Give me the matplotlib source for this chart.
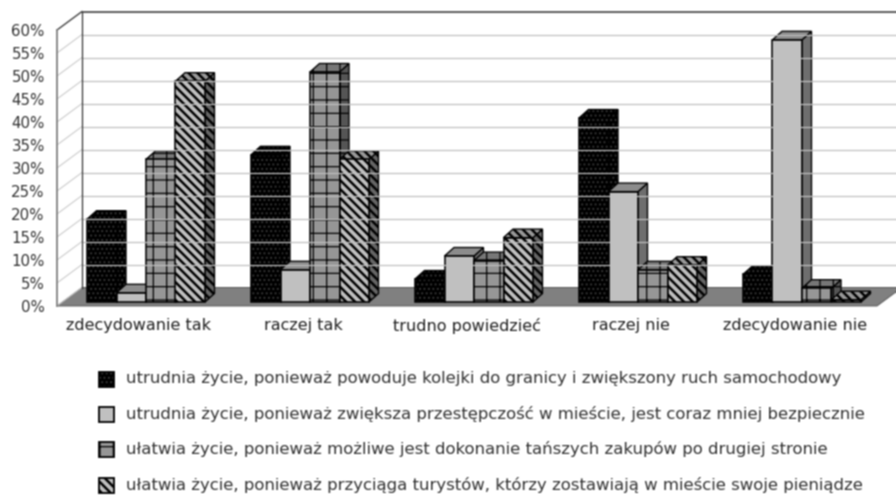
#!/usr/bin/env python

import matplotlib
matplotlib.use('Agg')
import matplotlib.pyplot as plt
import numpy as np
from matplotlib.patches import Polygon, Rectangle

plt.rcParams['font.family'] = ['DejaVu Sans']

categories = ['zdecydowanie tak', 'raczej tak', 'trudno powiedzieć', 'raczej nie', 'zdecydowanie nie']
yticks = [0, 5, 10, 15, 20, 25, 30, 35, 40, 45, 50, 55, 60]
ylabels = ['0%', '5%', '10%', '15%', '20%', '25%', '30%', '35%', '40%', '45%', '50%', '55%', '60%']

s1 = [18, 32, 5, 40, 6]
s2 = [2, 7, 10, 24, 57]
s3 = [31, 50, 9, 7, 3]
s4 = [48, 31, 14, 8, 0.5]
series = [s1, s2, s3, s4]

legend_texts = [
    'utrudnia życie, ponieważ powoduje kolejki do granicy i zwiększony ruch samochodowy',
    'utrudnia życie, ponieważ zwiększa przestępczość w mieście, jest coraz mniej bezpiecznie',
    'ułatwia życie, ponieważ możliwe jest dokonanie tańszych zakupów po drugiej stronie',
    'ułatwia życie, ponieważ przyciąga turystów, którzy zostawiają w mieście swoje pieniądze',
]

# face colour, dark side, top, hatch, hatch colour, hatch width
styles = [
    ('#000000', '#000000', '#000000', '...', '#3c3c3c', 1.0),
    ('#c0c0c0', '#6e6e6e', '#8c8c8c', '', '#000000', 1.0),
    ('#969696', '#555555', '#777777', '+', '#000000', 1.1),
    ('#c0c0c0', '#666666', '#999999', '\\\\\\', '#000000', 2.2),
]

W, H = 896, 496
px_x = 164.0       # pixels per category
px_y = 4.6         # pixels per percent
wall_dx = 25 / px_x
wall_dy = 18.5 / px_y
bar_dx = 9.5 / px_x
bar_dy = 8.5 / px_y
bar_w = 29.5 / px_x
bar_start = 30 / px_x
base = 4 / px_y


# the reference is a soft scan, so the whole figure gets a small blur
def soften(img, dpi):
    out = np.pad(img, ((1, 1), (1, 1), (0, 0)), mode='edge')
    out = (out[:-2] + 2 * out[1:-1] + out[2:]) / 4
    out = (out[:, :-2] + 2 * out[:, 1:-1] + out[:, 2:]) / 4
    return out, 0, 0


fig = plt.figure(figsize=(W / 80, H / 80), dpi=80)
fig.set_agg_filter(soften)
ax = fig.add_axes([57 / W, 1 - 306 / H, 820 / W, 276 / H])
ax.set_xlim(0, 5)
ax.set_ylim(0, 60)
for s in ['top', 'right', 'bottom']:
    ax.spines[s].set_visible(False)
ax.spines['left'].set_color('#808080')
ax.spines['left'].set_linewidth(1.6)
ax.set_xticks([i + 0.5 for i in range(5)])
ax.set_xticklabels(categories, fontsize=14.4, color='#222222')
ax.set_yticks(yticks)
ax.set_yticklabels(ylabels, fontsize=13.5, color='#333333')
ax.tick_params(length=0)
ax.tick_params(axis='x', pad=11)
ax.tick_params(axis='y', pad=11)

# walls and gridlines
for y in yticks:
    ax.plot([0, wall_dx], [y, y + wall_dy], color='#c8c8c8', lw=0.9, clip_on=False)
    if y > 0:
        ax.plot([wall_dx, 5 + wall_dx], [y + wall_dy, y + wall_dy], color='#c0c0c0', lw=1.1, clip_on=False)
ax.plot([0, wall_dx], [60, 60 + wall_dy], color='#444444', lw=1.2, clip_on=False)
ax.plot([wall_dx, 5 + wall_dx], [60 + wall_dy, 60 + wall_dy], color='#555555', lw=1.6, clip_on=False)
ax.plot([wall_dx, wall_dx], [wall_dy, 60 + wall_dy], color='#333333', lw=1.1, clip_on=False)

# floor
ax.add_patch(Polygon([(0, 0), (5, 0), (5 + wall_dx, wall_dy), (wall_dx, wall_dy)],
                     facecolor='#808080', edgecolor='#555555', lw=0.8, clip_on=False))

# bars, left to right so the nearer one hides the side of the previous
for i in range(5):
    for j, vals in enumerate(series):
        v = vals[i]
        face, side, top, hatch, hc, hw = styles[j]
        plt.rcParams['hatch.linewidth'] = hw
        x0 = i + bar_start + j * bar_w
        x1 = x0 + bar_w
        y0 = base
        y1 = base + v
        side_pts = [(x1, y0), (x1 + bar_dx, y0 + bar_dy), (x1 + bar_dx, y1 + bar_dy), (x1, y1)]
        top_pts = [(x0, y1), (x1, y1), (x1 + bar_dx, y1 + bar_dy), (x0 + bar_dx, y1 + bar_dy)]
        ax.add_patch(Polygon(side_pts, facecolor=side, edgecolor=hc, hatch=hatch, lw=0, clip_on=False))
        ax.add_patch(Polygon(side_pts, fill=False, edgecolor='black', lw=1.2, clip_on=False))
        ax.add_patch(Polygon(top_pts, facecolor=top, edgecolor=hc, hatch=hatch, lw=0, clip_on=False))
        ax.add_patch(Polygon(top_pts, fill=False, edgecolor='black', lw=1.2, clip_on=False))
        ax.bar(x0, v, bar_w, bottom=y0, align='edge', color=face, edgecolor=hc, hatch=hatch, lw=0, clip_on=False)
        ax.bar(x0, v, bar_w, bottom=y0, align='edge', fill=False, edgecolor='black', lw=1.4, clip_on=False)

# legend
legend_y = [379, 414, 449, 485]
for k, txt in enumerate(legend_texts):
    face, side, top, hatch, hc, hw = styles[k]
    plt.rcParams['hatch.linewidth'] = hw
    yy = 1 - legend_y[k] / H
    fig.patches.append(Rectangle((99 / W, yy - 7.5 / H), 15 / W, 15 / H, transform=fig.transFigure,
                                 facecolor=face, edgecolor=hc, hatch=hatch, lw=0, figure=fig))
    fig.patches.append(Rectangle((99 / W, yy - 7.5 / H), 15 / W, 15 / H, transform=fig.transFigure,
                                 fill=False, edgecolor='black', lw=1.6, figure=fig))
    fig.text(126 / W, yy, txt, fontsize=14.8, color='#333333', va='center', ha='left')

plt.savefig('out.png', dpi=80)
